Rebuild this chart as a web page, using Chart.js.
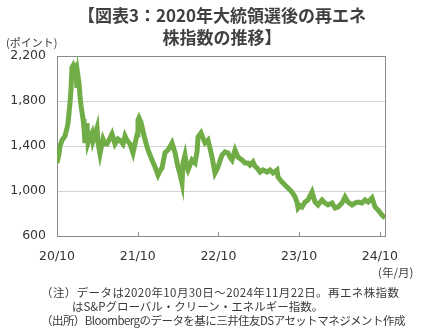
<!DOCTYPE html>
<html>
<head>
<meta charset="utf-8">
<script src="https://cdn.jsdelivr.net/npm/chart.js@4"></script>
<style>
  body { margin: 0; background: #fff; }
  #wrap { position: relative; width: 424px; height: 334px; font-family: "Noto Sans CJK JP", sans-serif; color: #3a3a3a; }
  #canvas { position: absolute; left: 0; top: 0; }
  .t { position: absolute; white-space: nowrap; }
  .title { font-weight: bold; font-size: 17px; left: 0; width: 444px; text-align: center; color: #404040; }
  .note { font-size: 11.5px; }
</style>
</head>
<body>
<div id="wrap">
  <canvas id="canvas" width="424" height="334"></canvas>
  <div class="t title" style="top:2px;">【図表3：2020年大統領選後の再エネ</div>
  <div class="t title" style="top:24px;">株指数の推移】</div>
  <div class="t" style="left:6px; top:34px; font-size:11px;">(ポイント)</div>
  <div class="t" style="left:378px; top:264px; font-size:11.5px;">(年/月)</div>
  <div class="t note" style="left:41px; top:284px; letter-spacing:0.4px;">（注）データは2020年10月30日～2024年11月22日。再エネ株指数</div>
  <div class="t note" style="left:72px; top:298px;">はS&amp;Pグローバル・クリーン・エネルギー指数。</div>
  <div class="t note" style="left:41px; top:312px; letter-spacing:-0.55px;">（出所）Bloombergのデータを基に三井住友DSアセットマネジメント作成</div>
</div>
<script>
  //-----------------------
  // - CLEAN ENERGY INDEX -
  //-----------------------

  // months elapsed since 2020/10/30
  const months = [0, 0.3, 0.45, 0.74, 1.19, 1.49, 1.64, 1.93, 2.08, 2.23, 2.38, 2.53, 2.68, 2.83, 2.97,
    3.12, 3.27, 3.42, 3.57, 3.72, 3.87, 4.01, 4.16, 4.31, 4.46, 4.61, 4.91, 5.2, 5.35, 5.65, 5.95,
    6.1, 6.39, 6.69, 6.84, 7.14, 7.43, 7.88, 8.18, 8.62, 9.07, 9.37, 9.81, 10.11, 10.41, 10.86,
    11.3, 11.6, 11.9, 12.04, 12.19, 12.49, 12.64, 13.09, 13.53, 13.83, 14.13, 14.57, 15.02, 15.32,
    15.61, 16.06, 16.51, 17.1, 17.55, 17.99, 18.29, 18.59, 18.74, 19.03, 19.33, 19.48, 19.78,
    20.07, 20.52, 20.82, 20.97, 21.41, 21.71, 22.01, 22.45, 22.75, 23.05, 23.49, 23.94, 24.24,
    24.54, 24.98, 25.43, 25.72, 26.02, 26.47, 26.91, 27.51, 27.96, 28.4, 28.7, 29.14, 29.44,
    29.74, 30.19, 30.63, 31.23, 31.67, 32.12, 32.71, 32.86, 33.46, 33.9, 34.35, 34.94, 35.39,
    35.69, 35.84, 36.13, 36.43, 36.88, 37.32, 37.92, 38.36, 38.81, 39.41, 39.85, 40.3, 40.89,
    41.34, 41.78, 42.38, 42.83, 43.27, 43.87, 44.31, 44.76, 45.35, 45.8, 46.25, 46.84, 47.29,
    47.73, 48.33, 48.77];

  const indexValues = [1250, 1330, 1400, 1450, 1490, 1560, 1604, 1782, 1900, 2100, 2115, 2080, 2093, 2040, 1916,
    2022, 1960, 1844, 1760, 1700, 1640, 1560, 1427, 1540, 1604, 1427, 1480, 1516, 1444, 1500, 1560,
    1427, 1329, 1420, 1462, 1420, 1418, 1470, 1507, 1418, 1462, 1450, 1418, 1489, 1450, 1418,
    1338, 1420, 1500, 1630, 1650, 1610, 1570, 1455, 1365, 1320, 1275, 1215, 1142, 1180,
    1205, 1340, 1365, 1427, 1340, 1215, 1150, 1070, 1250, 1320, 1213, 1187, 1230,
    1276, 1250, 1350, 1480, 1516, 1470, 1427, 1453, 1380, 1302, 1160, 1213, 1270,
    1320, 1347, 1338, 1300, 1276, 1364, 1302, 1276, 1249, 1249, 1230, 1258, 1220,
    1204, 1169, 1187, 1169, 1187, 1160, 1187, 1124, 1080, 1053, 1027, 991, 947,
    900, 849, 870, 858, 902, 920, 991, 902, 876, 920, 893, 876, 893,
    849, 858, 893, 947, 902, 876, 893, 902, 893, 920, 902, 938, 858,
    831, 787, 760];

  const xTickMonths = [0, 12, 24, 36, 48];
  const xTickLabels = ['20/10', '21/10', '22/10', '23/10', '24/10'];
  const yTickValues = [600, 1000, 1400, 1800, 2200];

  const points = months.map((m, i) => ({ x: m, y: indexValues[i] }));

  // top/right frame and inward ticks on the date axis
  const framePlugin = {
    id: 'frame',
    afterDraw(chart) {
      const { ctx, chartArea, scales } = chart;
      ctx.save();
      ctx.strokeStyle = '#8a8a8a';
      ctx.lineWidth = 1;
      ctx.beginPath();
      ctx.moveTo(chartArea.right + 0.5, chartArea.top);
      ctx.lineTo(chartArea.right + 0.5, chartArea.bottom);
      xTickMonths.slice(1).forEach(m => {
        const px = Math.round(scales.x.getPixelForValue(m)) + 0.5;
        ctx.moveTo(px, chartArea.bottom);
        ctx.lineTo(px, chartArea.bottom - 4);
      });
      ctx.stroke();
      ctx.restore();
    }
  };

  const ctx = document.getElementById('canvas').getContext('2d');

  const myChart = new Chart(ctx, {
    type: 'line',
    data: {
      datasets: [{
        label: '再エネ株指数',
        data: points,
        borderColor: '#70ad47',
        backgroundColor: 'transparent',
        borderWidth: 5,
        pointRadius: 0,
        tension: 0
      }]
    },
    options: {
      responsive: false,
      animation: false,
      devicePixelRatio: 1,
      layout: { padding: { left: 0, top: 56, right: 39, bottom: 68 } },
      plugins: { legend: { display: false }, tooltip: { enabled: false } },
      scales: {
        x: {
          type: 'linear',
          min: 0,
          max: 48.77,
          afterBuildTicks: s => { s.ticks = xTickMonths.map(v => ({ value: v })); },
          afterFit: s => { s.height = 30; },
          grid: { display: false },
          border: { color: '#8a8a8a', width: 1 },
          ticks: {
            padding: 5,
            maxRotation: 0,
            autoSkip: false,
            color: '#333',
            font: { family: 'DejaVu Sans', size: 12.5 },
            callback: v => xTickLabels[xTickMonths.indexOf(v)]
          }
        },
        y: {
          min: 600,
          max: 2200,
          afterBuildTicks: s => { s.ticks = yTickValues.map(v => ({ value: v })); },
          afterFit: s => { s.width = 57; },
          grid: {
            drawTicks: false,
            color: c => (c.tick && c.tick.value === 2200) ? '#8a8a8a' : '#d3d3d3'
          },
          border: { color: '#8a8a8a', width: 1 },
          ticks: {
            padding: 11,
            color: '#333',
            font: { family: 'DejaVu Sans', size: 12.5 },
            callback: v => v.toLocaleString('en-US')
          }
        }
      }
    },
    plugins: [framePlugin]
  });

  //---------------------------
  // - END CLEAN ENERGY INDEX -
  //---------------------------
</script>
</body>
</html>
